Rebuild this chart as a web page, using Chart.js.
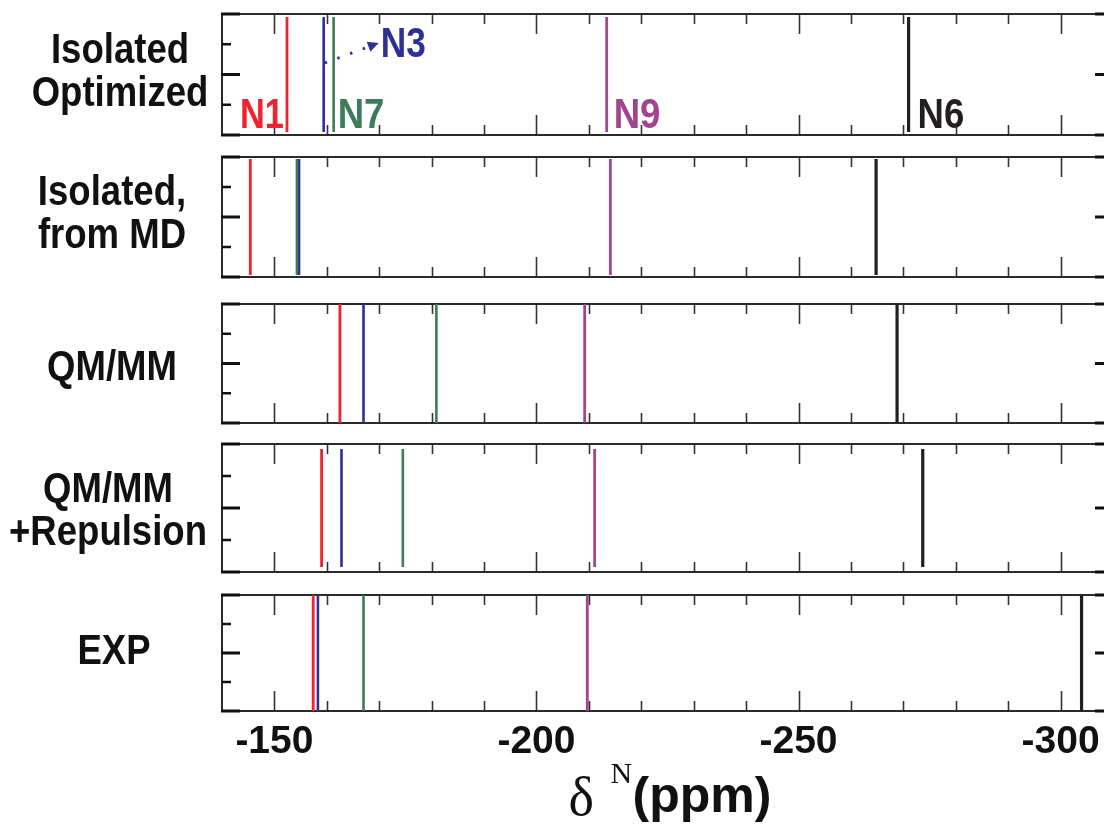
<!DOCTYPE html>
<html>
<head>
<meta charset="utf-8">
<script src="https://cdn.jsdelivr.net/npm/chart.js@4/dist/chart.umd.min.js"></script>
<style>
html,body{margin:0;padding:0;background:#fff;overflow:hidden;width:1104px;height:833px}
#wrap{position:absolute;left:0;top:0;width:1120px;height:833px}
canvas{display:block}
</style>
</head>
<body>
<div id="wrap"><canvas id="c" width="1120" height="833"></canvas></div>
<script>
// ---------- data ----------
const categories = ['Isolated Optimized', 'Isolated, from MD', 'QM/MM', 'QM/MM +Repulsion', 'EXP'];
const panelLabels = [['Isolated', 'Optimized'], ['Isolated,', 'from MD'], ['QM/MM'], ['QM/MM', '+Repulsion'], ['EXP']];
const nuclei = ['N1', 'N7', 'N3', 'N9', 'N6'];
const N1 = [-152.4, -145.4, -162.5, -159.0, -157.4];
const N3 = [-159.4, -154.7, -167.0, -162.8, -158.3];
const N7 = [-161.3, -154.3, -180.9, -174.5, -167.0];
const N9 = [-213.4, -214.1, -209.2, -211.1, -209.7];
const N6 = [-271.0, -264.8, -268.8, -273.7, -304.0];
const series = { N1, N3, N7, N9, N6 };
const xTickLabels = [-300, -250, -200, -150];
const xMajor = [-150, -200, -250, -300];
const xMinor = [-160, -170, -180, -190, -210, -220, -230, -240, -260, -270, -280, -290];
const xMin = -310, xMax = -140;

// ---------- layout (vertical units = pixels below chart top) ----------
const panelTop = [0, 143, 290, 430, 581];
const panelBottom = [121, 263, 409, 558, 697];
const lineInset = [3, 2, 0, 5, 0];
const labelCenter = [56.5, 199, 352, 496, 636];
const labelX = [120, 112, 112, 108, 114];

// ---------- styles ----------
const SANS = "'Liberation Sans',Arial,Helvetica,sans-serif";
const SERIF = "'Liberation Serif','Times New Roman','DejaVu Serif',serif";
const colors = { N1: '#f0222e', N3: '#2d3192', N7: '#3b7d5b', N9: '#a3448e', N6: '#231f20' };
const widths = { N1: 2.8, N3: 2.6, N7: 2.6, N9: 2.8, N6: 3.2 };
const CONDENSE = 0.85;

const datasets = [];
categories.forEach((cat, i) => {
  nuclei.forEach(n => {
    const v = series[n][i];
    datasets.push({
      label: n + ' ' + cat,
      data: [{ x: v, y: panelTop[i] + lineInset[i] }, { x: v, y: panelBottom[i] - lineInset[i] }],
      borderColor: colors[n],
      borderWidth: widths[n],
      showLine: true,
      pointRadius: 0,
      borderCapStyle: 'butt'
    });
  });
});

function condensedText(ctx, text, x, y, align, sx) {
  ctx.save();
  ctx.translate(x, y);
  ctx.scale(sx, 1);
  ctx.textAlign = align;
  ctx.fillText(text, 0, 0);
  ctx.restore();
}

const framePlugin = {
  id: 'frames',
  beforeDatasetsDraw(chart) {
    const { ctx, scales: { x, y } } = chart;
    const L = x.getPixelForValue(xMax), R = x.getPixelForValue(xMin);
    ctx.save();
    for (let i = 0; i < categories.length; i++) {
      const T = y.getPixelForValue(panelTop[i]), B = y.getPixelForValue(panelBottom[i]);
      ctx.strokeStyle = '#333';
      ctx.lineWidth = 1.6;
      ctx.beginPath();
      xMajor.forEach(v => { const p = Math.round(x.getPixelForValue(v)) + 0.5; ctx.moveTo(p, T); ctx.lineTo(p, T + 20); ctx.moveTo(p, B); ctx.lineTo(p, B - 20); });
      xMinor.forEach(v => { const p = Math.round(x.getPixelForValue(v)) + 0.5; ctx.moveTo(p, T); ctx.lineTo(p, T + 10); ctx.moveTo(p, B); ctx.lineTo(p, B - 10); });
      ctx.stroke();
      ctx.strokeStyle = '#2a2a2a';
      ctx.lineWidth = 2;
      ctx.strokeRect(L, T, R - L, B - T);
      ctx.strokeStyle = '#111';
      const H = B - T;
      [0, 0.5, 1].forEach(f => {
        const py = T + f * H;
        ctx.lineWidth = 3;
        ctx.beginPath(); ctx.moveTo(L - 1, py); ctx.lineTo(L + 18, py); ctx.moveTo(R + 1, py); ctx.lineTo(R - 18, py); ctx.stroke();
      });
      [0.25, 0.75].forEach(f => {
        const py = T + f * H;
        ctx.lineWidth = 2.5;
        ctx.beginPath(); ctx.moveTo(L, py); ctx.lineTo(L + 9, py); ctx.moveTo(R, py); ctx.lineTo(R - 9, py); ctx.stroke();
      });
    }
    ctx.restore();
  },
  afterDatasetsDraw(chart) {
    const { ctx, scales: { x, y } } = chart;
    ctx.save();
    ctx.font = 'bold 43px ' + SANS;
    ctx.textBaseline = 'alphabetic';
    const by = y.getPixelForValue(114);
    const px = v => x.getPixelForValue(v);
    ctx.fillStyle = colors.N1; condensedText(ctx, 'N1', px(N1[0]) - 3, by, 'right', 0.8);
    ctx.fillStyle = colors.N7; condensedText(ctx, 'N7', px(N7[0]) + 4, by, 'left', 0.85);
    ctx.fillStyle = colors.N9; condensedText(ctx, 'N9', px(N9[0]) + 7, by, 'left', 0.85);
    ctx.fillStyle = colors.N6; condensedText(ctx, 'N6', px(N6[0]) + 9, by, 'left', 0.85);
    const n3y = y.getPixelForValue(43);
    const n3x = px(N3[0]) + 57;
    ctx.fillStyle = colors.N3; condensedText(ctx, 'N3', n3x, n3y, 'left', 0.82);
    // dotted arrow from the N3 line to its label
    const x0 = px(N3[0]) + 1, y0 = y.getPixelForValue(49);
    const x1 = n3x - 2, y1 = y.getPixelForValue(29);
    ctx.strokeStyle = colors.N3; ctx.lineWidth = 2.8; ctx.setLineDash([2.5, 11]);
    ctx.beginPath(); ctx.moveTo(x0, y0); ctx.lineTo(x1 - 8, y1 + 3); ctx.stroke();
    ctx.setLineDash([]);
    const ang = Math.atan2(y1 - y0, x1 - x0);
    ctx.fillStyle = colors.N3;
    ctx.beginPath();
    ctx.moveTo(x1, y1);
    ctx.lineTo(x1 - 12 * Math.cos(ang - 0.45), y1 - 12 * Math.sin(ang - 0.45));
    ctx.lineTo(x1 - 12 * Math.cos(ang + 0.45), y1 - 12 * Math.sin(ang + 0.45));
    ctx.closePath(); ctx.fill();
    // panel labels
    ctx.fillStyle = '#111';
    ctx.font = 'bold 43px ' + SANS;
    ctx.textBaseline = 'middle';
    panelLabels.forEach((lines, i) => {
      const c = y.getPixelForValue(labelCenter[i]);
      const n = lines.length;
      lines.forEach((t, k) => {
        const ly = c + (k - (n - 1) / 2) * 43 + 2;
        condensedText(ctx, t, labelX[i], ly, 'center', CONDENSE);
      });
    });
    ctx.restore();
  },
  afterDraw(chart) {
    const { ctx, chartArea } = chart;
    const cx = (chartArea.left + chartArea.right) / 2;
    ctx.save();
    ctx.fillStyle = '#111';
    ctx.textAlign = 'left';
    ctx.textBaseline = 'alphabetic';
    ctx.font = '54px ' + SERIF;
    ctx.fillText('\u03B4', cx - 99, 815);
    ctx.font = '30px ' + SERIF;
    ctx.fillText('N', cx - 57, 783);
    ctx.font = 'bold 50px ' + SANS;
    ctx.fillText('(ppm)', cx - 35, 812);
    ctx.restore();
  }
};

new Chart(document.getElementById('c'), {
  type: 'scatter',
  data: { datasets },
  plugins: [framePlugin],
  options: {
    responsive: false,
    animation: false,
    devicePixelRatio: 1,
    layout: { padding: { top: 14, right: 7, left: 0, bottom: 0 } },
    plugins: { legend: { display: false }, tooltip: { enabled: false } },
    scales: {
      x: {
        type: 'linear', min: xMin, max: xMax, reverse: true,
        grid: { display: false }, border: { display: false },
        afterBuildTicks: s => { s.ticks = xTickLabels.map(v => ({ value: v })); },
        afterFit: s => { s.height = 122; s.paddingLeft = 0; s.paddingRight = 0; },
        ticks: {
          autoSkip: false, maxRotation: 0, padding: 0,
          color: '#111', font: { family: SANS, size: 39, weight: 'bold' },
          callback: v => String(v)
        }
      },
      y: {
        type: 'linear', min: 0, max: 697, reverse: true,
        grid: { display: false }, border: { display: false },
        ticks: { display: false },
        afterFit: s => { s.width = 222; s.paddingTop = 0; s.paddingBottom = 0; }
      }
    }
  }
});
</script>
</body>
</html>
